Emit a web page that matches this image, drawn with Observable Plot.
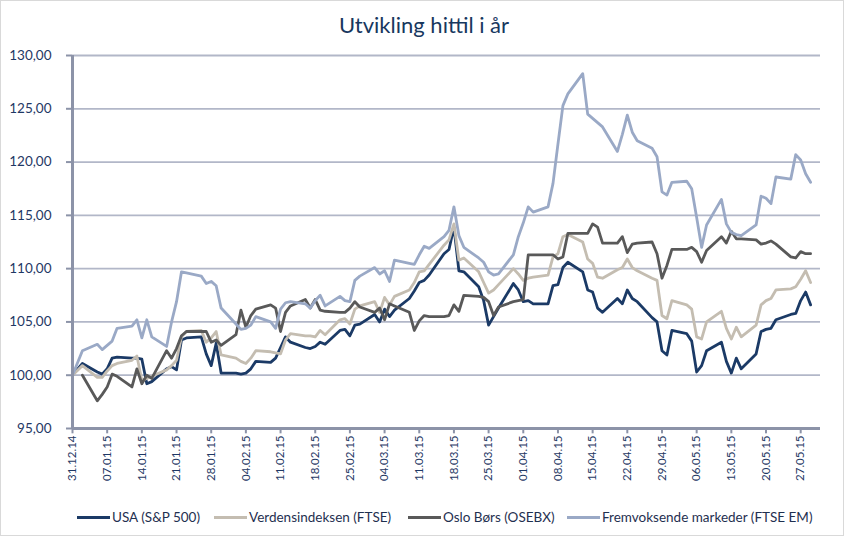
<!DOCTYPE html>
<html><head><meta charset="utf-8">
<script src="https://cdn.jsdelivr.net/npm/d3@7"></script>
<script src="https://cdn.jsdelivr.net/npm/@observablehq/plot@0.6"></script>
<style>
body{margin:0;background:#fff;}
#wrap{position:relative;width:848px;height:539px;overflow:hidden;font-family:Lato,"Open Sans",sans-serif;}
#frame{position:absolute;left:0;top:0;width:842px;height:534px;border:1px solid #d9d9d9;}
#title{position:absolute;top:11px;left:0;width:848px;text-align:center;font-size:22px;color:#17375E;}
#chart{position:absolute;left:0;top:0;}
#legend{position:absolute;top:507px;left:0;width:848px;height:20px;font-size:13.5px;color:#1F3050;}
.item{position:absolute;top:0;display:flex;align-items:center;white-space:nowrap;height:20px}
.sw{display:inline-block;width:33px;height:3px;margin-right:2px}
</style></head>
<body><div id="wrap"><div id="frame"></div><div id="chart"></div><div id="title">Utvikling hittil i år</div><div id="legend"></div></div>
<script>
const dates = [
"2014-12-31","2015-01-02",
"2015-01-05","2015-01-06","2015-01-07","2015-01-08","2015-01-09",
"2015-01-12","2015-01-13","2015-01-14","2015-01-15","2015-01-16",
"2015-01-19","2015-01-20","2015-01-21","2015-01-22","2015-01-23",
"2015-01-26","2015-01-27","2015-01-28","2015-01-29","2015-01-30",
"2015-02-02","2015-02-03","2015-02-04","2015-02-05","2015-02-06",
"2015-02-09","2015-02-10","2015-02-11","2015-02-12","2015-02-13",
"2015-02-16","2015-02-17","2015-02-18","2015-02-19","2015-02-20",
"2015-02-23","2015-02-24","2015-02-25","2015-02-26","2015-02-27",
"2015-03-02","2015-03-03","2015-03-04","2015-03-05","2015-03-06",
"2015-03-09","2015-03-10","2015-03-11","2015-03-12","2015-03-13",
"2015-03-16","2015-03-17","2015-03-18","2015-03-19","2015-03-20",
"2015-03-23","2015-03-24","2015-03-25","2015-03-26","2015-03-27",
"2015-03-30","2015-03-31","2015-04-01","2015-04-02","2015-04-03",
"2015-04-06","2015-04-07","2015-04-08","2015-04-09","2015-04-10",
"2015-04-13","2015-04-14","2015-04-15","2015-04-16","2015-04-17",
"2015-04-20","2015-04-21","2015-04-22","2015-04-23","2015-04-24",
"2015-04-27","2015-04-28","2015-04-29","2015-04-30","2015-05-01",
"2015-05-04","2015-05-05","2015-05-06","2015-05-07","2015-05-08",
"2015-05-11","2015-05-12","2015-05-13","2015-05-14","2015-05-15",
"2015-05-18","2015-05-19","2015-05-20","2015-05-21","2015-05-22",
"2015-05-25","2015-05-26","2015-05-27","2015-05-28","2015-05-29"];

const usa = [100.0, 101.1,
 100.3, 100.1, 100.6, 101.6, 101.7,
 101.6, 101.6, 101.5, 99.2, 99.4,
 100.6, 100.8, 100.5, 103.3, 103.5,
 103.6, 102.0, 100.9, 103.0, 100.2,
 100.2, 100.1, 100.2, 100.6, 101.3,
 101.2, 101.6, 102.6, 103.6, 103.1,
 102.6, 102.5, 102.7, 103.1, 102.9,
 104.2, 104.3, 103.7, 104.7, 104.8,
 105.7, 105.0, 106.2, 105.5, 106.1,
 107.2, 107.9, 108.7, 108.9, 109.4,
 111.4, 111.8, 113.9, 109.8, 109.7,
 108.3, 107.0, 104.7, 105.5, 106.3,
 108.6, 108.0, 106.9, 107.0, 106.7,
 106.7, 108.4, 108.5, 110.1, 110.6,
 109.7, 108.0, 107.8, 106.3, 105.9,
 107.2, 106.7, 108.0, 107.2, 106.9,
 105.4, 105.0, 102.3, 101.9, 104.2,
 103.9, 103.2, 100.3, 100.9, 102.3,
 103.1, 101.3, 100.2, 101.6, 100.6,
 102.0, 104.1, 104.3, 104.4, 105.2,
 105.7, 105.8, 107.0, 107.8, 106.6];

const ftse = [100.0, 100.9,
 99.8, 99.8, 100.4, 100.9, 101.1,
 101.4, 101.8, 99.5, 99.7, 99.9,
 100.5, 100.9, 101.4, 103.6, 104.1,
 104.2, 103.1, 103.5, 104.1, 101.9,
 101.6, 101.3, 101.1, 101.6, 102.3,
 102.2, 102.1, 102.0, 103.3, 103.9,
 103.7, 103.7, 103.6, 104.2, 103.8,
 105.2, 105.3, 104.8, 106.2, 106.5,
 106.9, 105.9, 107.3, 106.6, 107.4,
 108.0, 108.7, 109.7, 109.8, 110.4,
 112.2, 112.7, 114.2, 110.8, 111.0,
 109.7, 108.7, 107.7, 108.0, 108.5,
 110.0, 109.5, 108.9, 109.1, 109.2,
 109.4, 111.1, 111.4, 113.0, 113.2,
 112.5, 110.9, 110.5, 109.2, 109.1,
 109.9, 110.1, 110.9, 110.1, 109.8,
 109.1, 108.9, 105.6, 105.3, 107.0,
 106.6, 106.2, 103.6, 103.4, 105.0,
 106.0, 104.4, 103.4, 104.5, 103.6,
 104.7, 106.6, 107.0, 107.2, 108.0,
 108.1, 108.3, 109.0, 109.8, 108.7];

const osebx = [null, 100.0,
 97.6, 98.2, 98.9, 100.1, 99.9,
 98.9, 100.6, 99.2, 100.0, 99.7,
 102.3, 101.6, 102.5, 103.7, 104.1,
 104.1, 104.1, 103.1, 103.3, 102.8,
 103.8, 106.1, 104.5, 105.6, 106.2,
 106.6, 106.3, 104.1, 105.9, 106.5,
 107.1, 106.3, 107.1, 106.1, 106.0,
 105.9, 105.9, 106.3, 106.9, 106.4,
 105.9, 106.3, 105.2, 106.7, 106.5,
 105.9, 104.2, 105.1, 105.6, 105.5,
 105.5, 105.6, 106.6, 106.0, 107.5,
 107.4, 107.3, 106.9, 105.6, 106.4,
 106.9, 107.0, 107.1, 111.3, 111.3,
 111.3, 111.3, 110.9, 111.1, 113.3,
 113.3, 113.3, 114.2, 113.9, 112.4,
 112.4, 113.0, 111.5, 112.3, 112.4,
 112.5, 111.4, 109.1, 110.3, 111.8,
 111.8, 112.0, 111.6, 110.6, 111.7,
 113.0, 112.4, 113.5, 112.8, 112.8,
 112.7, 112.3, 112.4, 112.6, 112.3,
 111.1, 111.0, 111.6, 111.4, 111.4];

const em = [100.0, 102.3,
 102.9, 102.4, 102.8, 103.2, 104.4,
 104.6, 105.2, 103.5, 105.2, 103.6,
 102.7, 105.0, 106.9, 109.7, 109.6,
 109.3, 108.6, 108.8, 108.4, 106.3,
 104.8, 104.3, 104.4, 104.7, 105.5,
 105.0, 104.4, 106.2, 106.8, 106.9,
 106.7, 106.3, 107.0, 107.5, 106.5,
 107.4, 107.0, 106.9, 108.9, 109.3,
 110.1, 109.5, 109.8, 108.8, 110.8,
 110.5, 110.4, 111.3, 112.1, 111.9,
 113.0, 113.6, 115.8, 113.1, 112.0,
 111.0, 110.6, 109.7, 109.4, 109.5,
 111.3, 113.0, 114.3, 115.8, 115.3,
 115.8, 118.0, 121.7, 125.3, 126.4,
 128.3, 124.5, 124.1, 123.7, 123.3,
 121.0, 122.6, 124.4, 122.8, 122.0,
 121.3, 120.5, 117.2, 116.9, 118.1,
 118.2, 117.5, 114.8, 112.0, 114.1,
 116.5, 114.2, 113.4, 113.2, 113.1,
 114.1, 116.8, 116.6, 116.1, 118.6,
 118.4, 120.7, 120.2, 118.9, 118.1];

const seriesNames = ["USA (S&P 500)", "Verdensindeksen (FTSE)", "Oslo Børs (OSEBX)", "Fremvoksende markeder (FTSE EM)"];
const seriesColors = ["#1B3A66", "#C4BDB1", "#595959", "#9AA9C6"];
const seriesValues = [usa, ftse, osebx, em];
const yTicks = [95, 100, 105, 110, 115, 120, 125, 130];
const xTicks = ["2014-12-31","2015-01-07","2015-01-14","2015-01-21","2015-01-28","2015-02-04","2015-02-11","2015-02-18","2015-02-25","2015-03-04","2015-03-11","2015-03-18","2015-03-25","2015-04-01","2015-04-08","2015-04-15","2015-04-22","2015-04-29","2015-05-06","2015-05-13","2015-05-20","2015-05-27"];

const parse = s => new Date(s + "T00:00:00Z");
const xStart = parse("2014-12-31"), xEnd = parse("2015-05-31");
const xTickDates = xTicks.map(parse);
const gridColor = "#B2B7C8", axisColor = "#8C93A8", textColor = "#1F3864";

const lineMarks = seriesValues.map((vals, k) => {
  const rows = dates.map((d, i) => ({date: parse(d), value: vals[i]})).filter(r => r.value != null);
  return Plot.line(rows, {x: "date", y: "value", stroke: seriesColors[k], strokeWidth: 2.8, strokeLinejoin: "round", strokeLinecap: "round"});
});

const chart = Plot.plot({
  width: 848, height: 500,
  marginLeft: 72, marginRight: 28, marginTop: 55, marginBottom: 72,
  style: {fontFamily: "Lato, 'Open Sans', sans-serif", background: "transparent"},
  x: {type: "utc", domain: [xStart, xEnd], label: null},
  y: {domain: [95, 130], label: null},
  marks: [
    Plot.ruleY(yTicks.filter(v => v > 95), {stroke: gridColor, strokeWidth: 1.8}),
    Plot.ruleY(yTicks, {x1: xStart, x2: d3.utcHour.offset(xStart, -29), stroke: axisColor, strokeWidth: 2}),
    Plot.ruleX(xTickDates, {y1: 95, y2: 94.5, stroke: axisColor, strokeWidth: 2}),
    ...lineMarks,
    Plot.ruleX([xStart], {y1: 95, y2: 130, stroke: axisColor, strokeWidth: 3}),
    Plot.ruleY([95], {stroke: axisColor, strokeWidth: 3}),
    Plot.axisY(yTicks, {tickSize: 0, tickPadding: 21, fontSize: 13.5, color: textColor, label: null,
      tickFormat: d => d.toFixed(2).replace(".", ",")}),
    Plot.axisX(xTickDates, {tickSize: 0, tickPadding: 7, tickRotate: -90, fontSize: 11.5, color: textColor, label: null,
      tickFormat: d3.utcFormat("%d.%m.%y")})
  ]
});
document.getElementById("chart").appendChild(chart);

const legendPos = [77, 214, 408, 567];
const legend = document.getElementById("legend");
seriesNames.forEach((name, k) => {
  const item = document.createElement("div");
  item.className = "item";
  item.style.left = legendPos[k] + "px";
  const sw = document.createElement("span");
  sw.className = "sw";
  sw.style.background = seriesColors[k];
  item.appendChild(sw);
  item.appendChild(document.createTextNode(name));
  legend.appendChild(item);
});
</script>
</body></html>
